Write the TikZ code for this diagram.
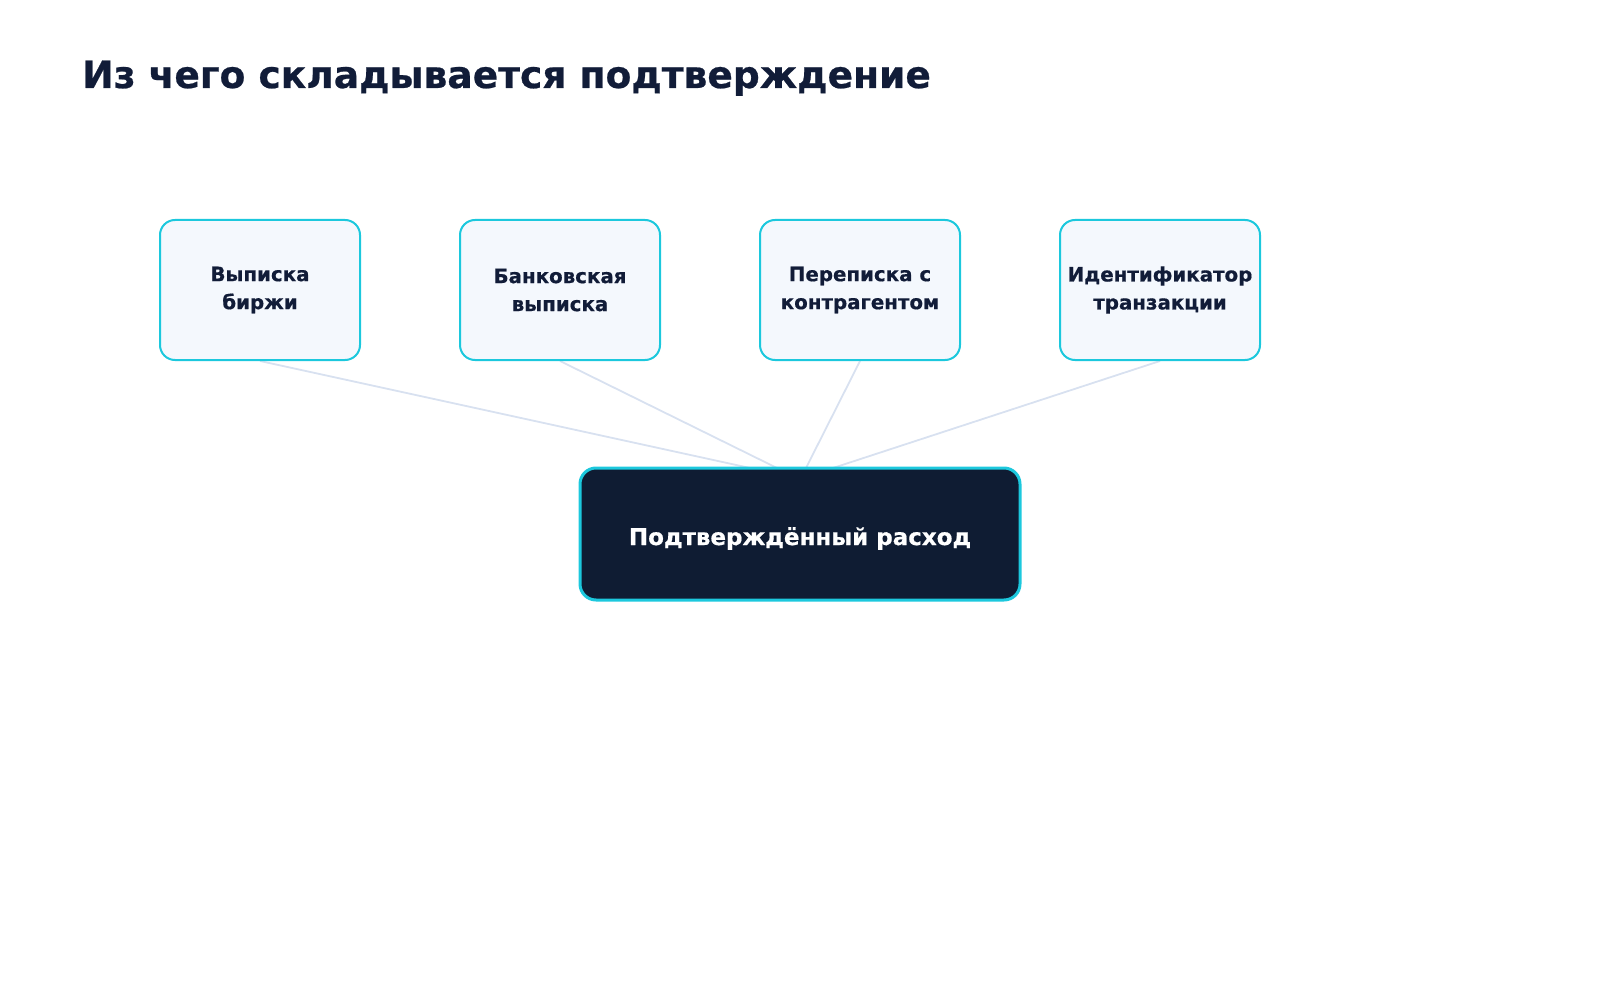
\documentclass[tikz,border=0pt]{standalone}
\usepackage{fontspec}
\setmainfont{DejaVu Sans}[BoldFeatures={FakeBold=0.6}]
\usetikzlibrary{backgrounds}
\definecolor{navy}{HTML}{111C38}
\definecolor{boxfill}{HTML}{F4F8FD}
\definecolor{cyanb}{HTML}{1CC8DD}
\definecolor{linec}{HTML}{D8E1F0}
\definecolor{darkfill}{HTML}{0F1C33}
\begin{document}
\begin{tikzpicture}[x=1pt,y=-1pt,
  src/.style={draw=cyanb, line width=2pt, fill=boxfill, rounded corners=15pt,
    minimum width=200pt, minimum height=140pt, align=center, inner sep=0pt,
    font=\bfseries\fontsize{19.8}{28}\selectfont, text=navy},
  res/.style={draw=cyanb, line width=3pt, fill=darkfill, rounded corners=16pt,
    minimum width=440pt, minimum height=132pt, inner sep=0pt,
    text height=22pt, text depth=0pt,
    font=\bfseries\fontsize{23}{26}\selectfont, text=white},
  link/.style={draw=linec, line width=1.8pt}]
\useasboundingbox (0,0) rectangle (1600,1000);
\node[anchor=base west, inner sep=0pt, font=\bfseries\fontsize{37.6}{40}\selectfont, text=navy] (title) at (82,88) {Из чего складывается подтверждение};
\node[src] (s1) at (260,290) {Выписка\\биржи};
\node[src] (s2) at (560,290) {Банковская\\выписка};
\node[src] (s3) at (860,290) {Переписка с\\контрагентом};
\node[src] (s4) at (1160,290) {Идентификатор\\транзакции};
\node[res] (r) at (800,534) {Подтверждённый расход};
\coordinate (e1) at (750,468);
\coordinate (e2) at (777,468);
\coordinate (e3) at (806,468);
\coordinate (e4) at (833,468);
\begin{scope}[on background layer]
\draw[link] (s1.south) -- (e1);
\draw[link] (s2.south) -- (e2);
\draw[link] (s3.south) -- (e3);
\draw[link] (s4.south) -- (e4);
\end{scope}
\end{tikzpicture}
\end{document}
